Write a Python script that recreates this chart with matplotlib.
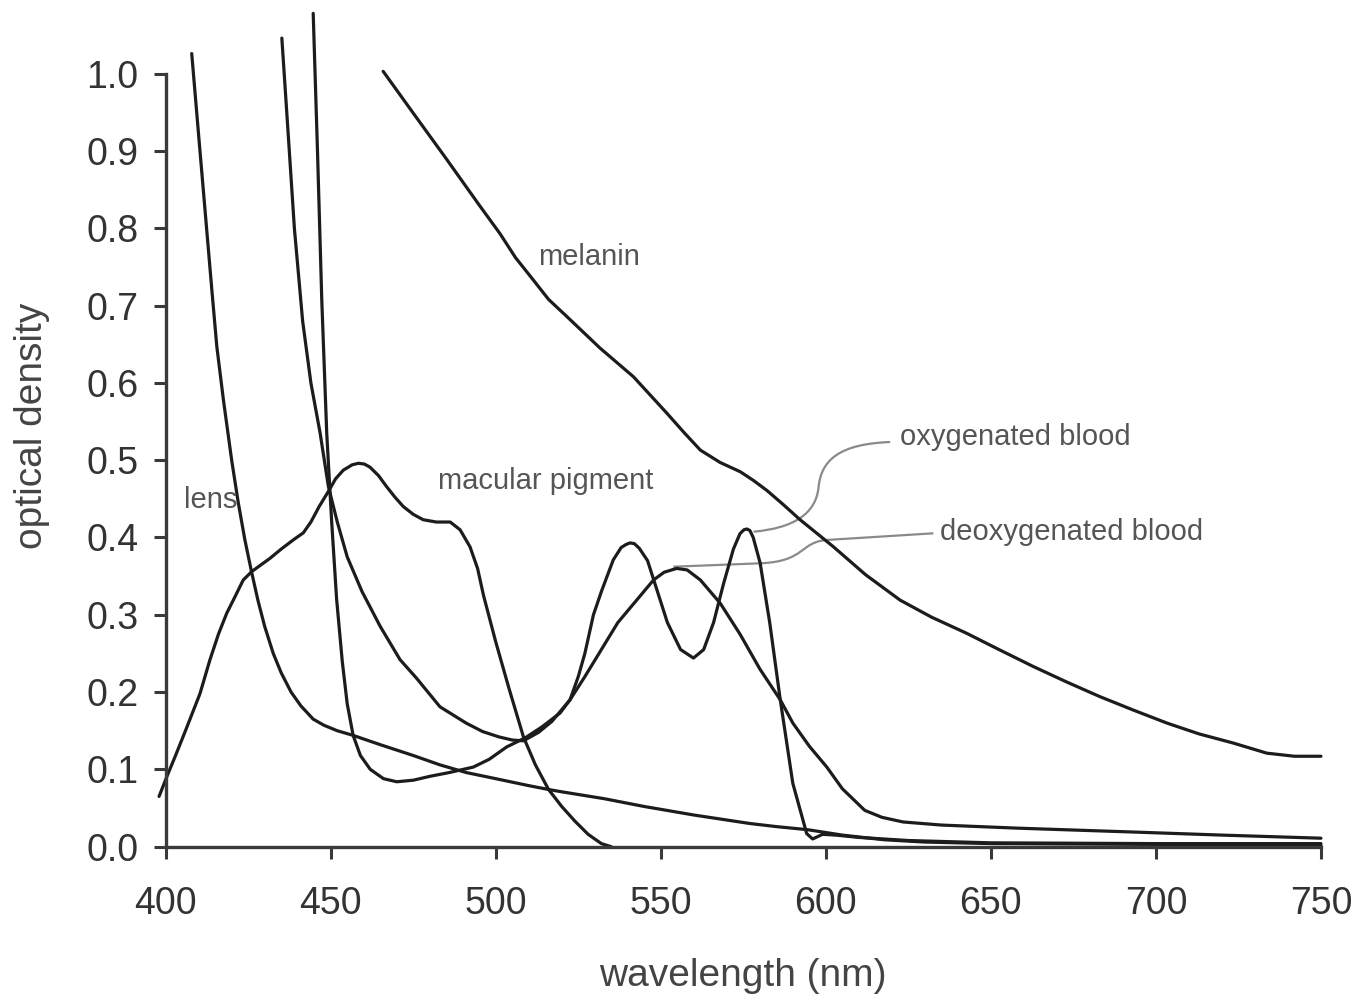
import matplotlib
matplotlib.use('Agg')
import matplotlib.pyplot as plt
from matplotlib.path import Path
from matplotlib.patches import PathPatch

plt.rcParams['font.family'] = ['Liberation Sans', 'DejaVu Sans']

# ---------------- data ----------------
lens_nm = [407.9, 410, 412, 414, 415.5, 417.5, 420, 422, 424, 426, 428, 430, 432.6,
           435, 438, 441, 444.7, 448, 452, 456.8, 465, 475, 483, 491, 500, 510, 516,
           520, 533, 545, 560, 577, 585, 594.5, 605, 617.6, 630, 650, 700, 750]
lens_od = [1.026, 0.92, 0.82, 0.72, 0.647, 0.578, 0.50, 0.445, 0.397, 0.356, 0.318,
           0.285, 0.25, 0.225, 0.20, 0.182, 0.165, 0.157, 0.150, 0.144, 0.132, 0.118,
           0.106, 0.096, 0.088, 0.079, 0.074, 0.071, 0.062, 0.052, 0.041, 0.030,
           0.026, 0.022, 0.015, 0.009, 0.006, 0.004, 0.003, 0.002]

macular_nm = [398, 400.3, 403, 406, 410.4, 413.4, 416, 418.5, 420.5, 423.5, 426.1,
              431.6, 435, 438.7, 441.7, 444, 446.5, 449.5, 451.5, 453.8, 456.5, 458.4,
              460.2, 461.9, 464.5, 466.9, 469.5, 472, 475, 478, 482, 486.2, 489.2,
              492.2, 494.5, 496.3, 500, 504, 508.4, 512, 516, 520, 524, 528, 532, 535]
macular_od = [0.065, 0.090, 0.118, 0.150, 0.198, 0.2415, 0.275, 0.302, 0.319, 0.345,
              0.356, 0.373, 0.385, 0.397, 0.406, 0.420, 0.440, 0.461, 0.476, 0.487,
              0.494, 0.496, 0.495, 0.491, 0.480, 0.466, 0.452, 0.44, 0.430, 0.423,
              0.420, 0.420, 0.410, 0.388, 0.36, 0.325, 0.265, 0.205, 0.142, 0.106,
              0.074, 0.052, 0.033, 0.016, 0.004, 0.0]

oxy_nm = [444.7, 446, 447.3, 448.8, 450.3, 451.8, 453.5, 455, 456.8, 459, 462, 466,
          470, 475, 480, 486, 493.2, 498, 503.3, 509, 514, 519.5, 522.5, 525, 527,
          529.6, 532, 535.6, 538, 539.5, 540.7, 542, 543.5, 546, 549, 552, 556,
          559.9, 563, 566, 569, 572, 574, 575.2, 576.1, 577, 578, 580.1, 583, 586.2,
          590, 594.2, 596, 599, 603, 610, 625, 650, 700, 750]
oxy_od = [1.078, 0.90, 0.707, 0.535, 0.42, 0.32, 0.24, 0.185, 0.144, 0.118, 0.10,
          0.088, 0.084, 0.086, 0.091, 0.096, 0.103, 0.113, 0.129, 0.141, 0.155, 0.173,
          0.19, 0.22, 0.25, 0.30, 0.33, 0.371, 0.387, 0.391, 0.393, 0.392, 0.386,
          0.37, 0.33, 0.29, 0.255, 0.244, 0.255, 0.29, 0.34, 0.385, 0.405, 0.410,
          0.411, 0.409, 0.40, 0.367, 0.29, 0.19, 0.082, 0.017, 0.010, 0.016, 0.015,
          0.012, 0.008, 0.005, 0.004, 0.004]

deoxy_nm = [435.2, 437, 439, 441.5, 444, 446.8, 449.3, 452, 455, 459.5, 465, 471,
            476, 483.1, 491, 496, 501, 505, 508.4, 513, 517, 522.5, 527, 532, 537,
            542.7, 547.8, 551, 554.8, 558, 562, 568, 574, 580, 586.2, 590, 595, 600.3,
            605, 611.8, 617, 623.4, 635, 658, 693, 720, 750]
deoxy_od = [1.046, 0.93, 0.80, 0.68, 0.60, 0.535, 0.466, 0.42, 0.375, 0.33, 0.285,
            0.242, 0.218, 0.181, 0.16, 0.149, 0.142, 0.138, 0.137, 0.148, 0.162, 0.19,
            0.22, 0.255, 0.29, 0.319, 0.345, 0.355, 0.36, 0.358, 0.345, 0.315, 0.275,
            0.23, 0.19, 0.16, 0.13, 0.103, 0.075, 0.047, 0.038, 0.032, 0.028, 0.024,
            0.019, 0.015, 0.011]

melanin_nm = [465.9, 475, 485, 495, 501.3, 506, 511.4, 516, 521.5, 531.6, 541.7,
              551.8, 557, 562, 568, 574.1, 578, 582.1, 587, 592.2, 602.3, 612, 622.5,
              632, 642.7, 652, 662.9, 673, 683.1, 693, 703.3, 713, 723.5, 733.6, 742,
              750]
melanin_od = [1.003, 0.949, 0.89, 0.83, 0.793, 0.762, 0.733, 0.708, 0.686, 0.645,
              0.608, 0.561, 0.536, 0.513, 0.497, 0.485, 0.474, 0.461, 0.443, 0.423,
              0.388, 0.352, 0.319, 0.297, 0.276, 0.256, 0.233, 0.213, 0.194, 0.177,
              0.160, 0.146, 0.134, 0.121, 0.117, 0.117]

x_ticks = [400, 450, 500, 550, 600, 650, 700, 750]
y_ticks = [0.0, 0.1, 0.2, 0.3, 0.4, 0.5, 0.6, 0.7, 0.8, 0.9, 1.0]
y_tick_labels = ['0.0', '0.1', '0.2', '0.3', '0.4', '0.5', '0.6', '0.7', '0.8', '0.9', '1.0']

# ---------------- figure ----------------
fig = plt.figure(figsize=(13.69, 10), dpi=100)
ax = fig.add_axes([0.121, 0.1533, 0.8439, 0.8426])

line_kw = dict(color='#1c1c1c', lw=2.3, solid_capstyle='round',
               solid_joinstyle='round', clip_on=False)
for xs, ys in [(lens_nm, lens_od), (macular_nm, macular_od), (oxy_nm, oxy_od),
               (deoxy_nm, deoxy_od), (melanin_nm, melanin_od)]:
    ax.plot(xs, ys, **line_kw)

ax.set_xlim(400, 750)
ax.set_ylim(0, 1.09)
for s in ['top', 'right']:
    ax.spines[s].set_visible(False)
for s in ['left', 'bottom']:
    ax.spines[s].set_linewidth(2.4)
    ax.spines[s].set_color('#3a3a3a')
ax.spines['left'].set_bounds(0, 1.0)
ax.spines['bottom'].set_bounds(400, 750)

ax.set_xticks(x_ticks)
ax.set_xticklabels([str(v) for v in x_ticks])
ax.set_yticks(y_ticks)
ax.set_yticklabels(y_tick_labels)
ax.tick_params(direction='out', length=8.5, width=2.2, color='#3a3a3a',
               labelsize=27, labelcolor='#333333')
ax.tick_params(axis='x', pad=20)
ax.tick_params(axis='y', pad=11)

ax.set_xlabel('wavelength (nm)', fontsize=28, color='#444444', labelpad=26)
ax.set_ylabel('optical density', fontsize=28, color='#444444', labelpad=26)

# ---------------- annotations ----------------
tkw = dict(fontsize=21, color='#555555')
ax.text(528.4, 0.763, 'melanin', ha='center', va='center', **tkw)
ax.text(515.2, 0.473, 'macular pigment', ha='center', va='center', **tkw)
ax.text(413.7, 0.449, 'lens', ha='center', va='center', **tkw)
ax.text(622.5, 0.530, 'oxygenated blood', ha='left', va='center', **tkw)
ax.text(634.6, 0.407, 'deoxygenated blood', ha='left', va='center', **tkw)

lead_kw = dict(fill=False, edgecolor='#8a8a8a', lw=1.6, clip_on=False)
oxy_leader = Path([(578.1, 0.4075), (590, 0.412), (597, 0.43), (597.8, 0.465),
                   (598.6, 0.50), (604, 0.521), (619.5, 0.5235)],
                  [Path.MOVETO, Path.CURVE4, Path.CURVE4, Path.CURVE4,
                   Path.CURVE4, Path.CURVE4, Path.CURVE4])
deoxy_leader = Path([(553.8, 0.3622), (580.1, 0.3666), (594, 0.369), (592, 0.394),
                     (600.3, 0.3968), (632.6, 0.4054)],
                    [Path.MOVETO, Path.LINETO, Path.CURVE4, Path.CURVE4,
                     Path.CURVE4, Path.LINETO])
ax.add_patch(PathPatch(oxy_leader, **lead_kw))
ax.add_patch(PathPatch(deoxy_leader, **lead_kw))

fig.savefig('out.png', dpi=100)
